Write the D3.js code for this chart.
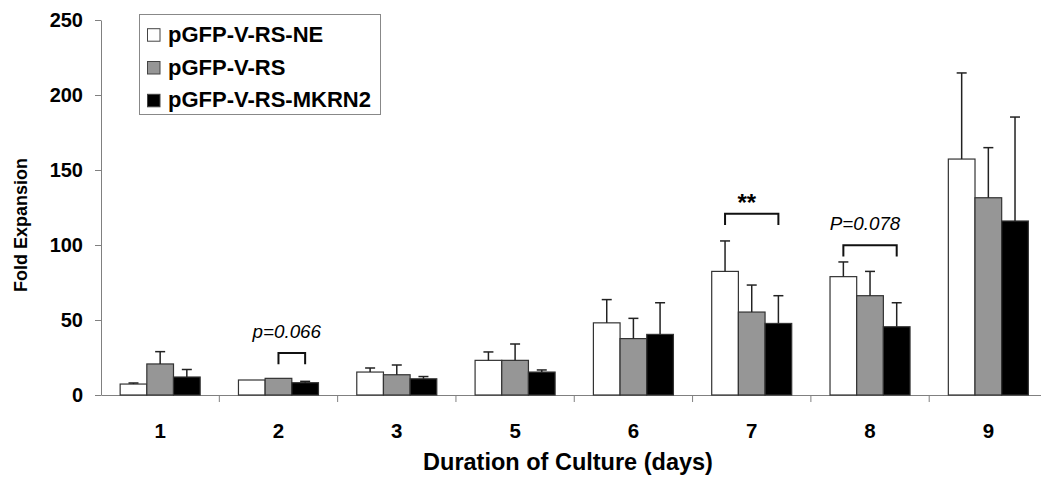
<!DOCTYPE html>
<html><head><meta charset="utf-8">
<script src="https://cdn.jsdelivr.net/npm/d3@7/dist/d3.min.js"></script>
<style>
body{margin:0;background:#fff;}
text{font-family:Arial,"Liberation Sans",sans-serif;}
</style></head>
<body><svg id="c" width="1041" height="480"></svg>
<script>
const days = ["1","2","3","5","6","7","8","9"];
const seriesNames = ["pGFP-V-RS-NE","pGFP-V-RS","pGFP-V-RS-MKRN2"];
const seriesColors = ["#ffffff","#969696","#000000"];
const neMean = [7.3, 10, 15.3, 23.1, 48.1, 82.4, 78.9, 157.3];
const neErr  = [0.7, 0, 2.7, 5.6, 15.5, 20.3, 9.8, 57.4];
const rsMean = [20.7, 11.1, 13.5, 23.1, 37.6, 55.3, 66.2, 131.5];
const rsErr  = [8.2, 0, 6.5, 10.9, 13.5, 18, 16.2, 33.4];
const mkMean = [12, 8.2, 10.8, 15.3, 40.4, 47.7, 45.5, 116];
const mkErr  = [5, 0.9, 1.5, 1.4, 21.1, 18.5, 16, 69.3];
const yTicks = [0, 50, 100, 150, 200, 250];
const annotations = [
  {day:"2", from:1, to:2, y:28, label:"p=0.066", italic:true},
  {day:"7", from:0, to:2, y:120.9, label:"**", italic:false},
  {day:"8", from:0, to:2, y:99.8, label:"P=0.078", italic:true}
];

const means = [neMean, rsMean, mkMean];
const errs = [neErr, rsErr, mkErr];

const svg = d3.select("#c");
const x = d3.scaleBand().domain(days).range([101, 1047.5]).padding(0);
const x1 = d3.scaleBand().domain(d3.range(3)).range([0, x.bandwidth()]).paddingInner(0).paddingOuter(0.718);
const y = d3.scaleLinear().domain([0, 250]).range([395, 20]);

const ya = svg.append("g").attr("transform","translate(101,0)")
  .call(d3.axisLeft(y).tickValues(yTicks).tickSize(6).tickSizeOuter(0).tickPadding(12));
ya.select(".domain").attr("stroke","#808080");
ya.selectAll(".tick line").attr("stroke","#808080");
ya.selectAll(".tick text").style("font-size","20px").style("font-weight","bold").attr("fill","#000");

const xa = svg.append("g").attr("transform","translate(0,395)")
  .call(d3.axisBottom(x).tickSize(0).tickSizeOuter(0).tickPadding(28));
xa.select(".domain").attr("stroke","#808080");
xa.selectAll(".tick text").style("font-size","20.5px").style("font-weight","bold").attr("fill","#000");
xa.selectAll(".bound").data(days.slice(1)).enter().append("line")
  .attr("x1", d=>x(d)).attr("x2", d=>x(d)).attr("y1",0).attr("y2",7)
  .attr("stroke","#808080");

const rows = [];
days.forEach((d,i)=>{ for(let s=0;s<3;s++) rows.push({day:d, s, v:means[s][i], e:errs[s][i]}); });
svg.append("g").selectAll("rect").data(rows).enter().append("rect")
  .attr("x", r=>x(r.day)+x1(r.s)).attr("width", x1.bandwidth())
  .attr("y", r=>y(r.v)).attr("height", r=>y(0)-y(r.v))
  .attr("fill", r=>seriesColors[r.s]).attr("stroke","#333").attr("stroke-width",1.2);

const eg = svg.append("g").attr("stroke","#222").attr("stroke-width",1.5);
rows.filter(r=>r.e>0).forEach(r=>{
  const cx = x(r.day)+x1(r.s)+x1.bandwidth()/2;
  eg.append("line").attr("x1",cx).attr("x2",cx).attr("y1",y(r.v)).attr("y2",y(r.v+r.e));
  eg.append("line").attr("x1",cx-5).attr("x2",cx+5).attr("y1",y(r.v+r.e)).attr("y2",y(r.v+r.e));
});

annotations.forEach(a=>{
  const xa1 = x(a.day)+x1(a.from)+x1.bandwidth()/2;
  const xa2 = x(a.day)+x1(a.to)+x1.bandwidth()/2;
  const yt = y(a.y), yb = y(a.y-7.5);
  svg.append("path").attr("d",`M${xa1},${yb}V${yt}H${xa2}V${yb}`)
    .attr("fill","none").attr("stroke","#111").attr("stroke-width",2);
  const t = svg.append("text").attr("x",(xa1+xa2)/2-5).attr("text-anchor","middle").text(a.label).attr("fill","#000");
  if(a.italic){ t.attr("y", yt-15).style("font-size","18.8px").style("font-style","italic"); }
  else { t.attr("y", yt-2.5).style("font-size","24px").style("font-weight","bold"); }
});

svg.append("text").attr("transform","translate(27,225) rotate(-90)").attr("text-anchor","middle")
  .style("font-size","18px").style("font-weight","bold").text("Fold Expansion");
svg.append("text").attr("x",568).attr("y",470).attr("text-anchor","middle")
  .style("font-size","23.5px").style("font-weight","bold")
  .text("Duration of Culture (days)");

const lg = svg.append("g");
lg.append("rect").attr("x",139.5).attr("y",14.5).attr("width",241).attr("height",100)
  .attr("fill","#fff").attr("stroke","#888").attr("stroke-width",1);
seriesNames.forEach((n,i)=>{
  const by = 41.7 + i*32.8;
  lg.append("rect").attr("x",147.5).attr("y",by-13).attr("width",12.5).attr("height",12.5)
    .attr("fill",seriesColors[i]).attr("stroke","#444").attr("stroke-width",1);
  lg.append("text").attr("x",168).attr("y",by).style("font-size","22px").style("font-weight","bold").text(n);
});
</script></body></html>
